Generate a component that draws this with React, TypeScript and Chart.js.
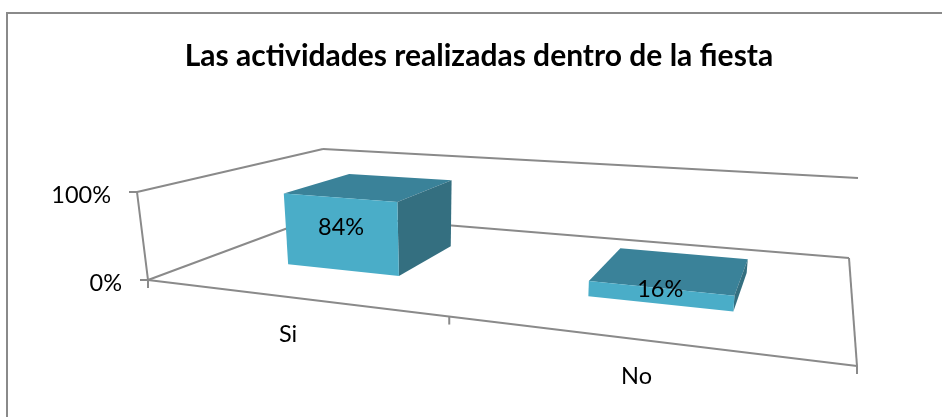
import React, { useEffect, useRef } from "react";
import { Chart, registerables } from "chart.js";

Chart.register(...registerables);

const title = "Las actividades realizadas dentro de la fiesta";
const categories = ["Si", "No"];
const shares = [0.84, 0.16];
const axisMax = 1;

type P = [number, number];
const FONT = "Lato, Carlito, sans-serif";
const LINE = "#8A8A8A";
const FRONT = "#4AADC8";
const TOP = "#3A8299";
const SIDE = "#346F80";
const DEPTH_NEAR = 0.3;
const DEPTH_FAR = 0.7;

function quadMap(p0: P, p1: P, p2: P, p3: P) {
  const dx1 = p1[0] - p2[0], dx2 = p3[0] - p2[0], sx = p0[0] - p1[0] + p2[0] - p3[0];
  const dy1 = p1[1] - p2[1], dy2 = p3[1] - p2[1], sy = p0[1] - p1[1] + p2[1] - p3[1];
  const det = dx1 * dy2 - dx2 * dy1;
  const g = (sx * dy2 - dx2 * sy) / det;
  const h = (dx1 * sy - sx * dy1) / det;
  const a = p1[0] - p0[0] + g * p1[0], b = p3[0] - p0[0] + h * p3[0];
  const d = p1[1] - p0[1] + g * p1[1], e = p3[1] - p0[1] + h * p3[1];
  return (u: number, w: number): P => {
    const q = g * u + h * w + 1;
    return [(a * u + b * w + p0[0]) / q, (d * u + e * w + p0[1]) / q];
  };
}

// Perspective frame of the plot: the floor plane, and how a full-height column
// leans and rises at each floor corner (front-left, front-right, back-right, back-left).
const floor = quadMap([148, 280], [857, 366], [849, 258], [323, 215]);
const bilinear = (c: number[], u: number, w: number) =>
  c[0] * (1 - u) * (1 - w) + c[1] * u * (1 - w) + c[2] * u * w + c[3] * (1 - u) * w;
const LEAN = [-11, 9, 9, 0];
const RISE = [88, 110, 80, 66];
const project = (u: number, w: number, v: number): P => {
  const f = floor(u, w);
  return [f[0] + bilinear(LEAN, u, w) * v, f[1] - bilinear(RISE, u, w) * v];
};

const poly = (ctx: CanvasRenderingContext2D, pts: P[], fill: string) => {
  ctx.beginPath();
  pts.forEach((p, i) => (i ? ctx.lineTo(p[0], p[1]) : ctx.moveTo(p[0], p[1])));
  ctx.closePath();
  ctx.fillStyle = fill;
  ctx.fill();
};
const seg = (ctx: CanvasRenderingContext2D, a: P, b: P) => {
  ctx.beginPath();
  ctx.moveTo(a[0], a[1]);
  ctx.lineTo(b[0], b[1]);
  ctx.stroke();
};

const perspective = {
  id: "perspective",
  afterDatasetsDraw(chart: any) {
    const ctx: CanvasRenderingContext2D = chart.ctx;
    const area = chart.chartArea;
    const xs = chart.scales.x, ys = chart.scales.y;
    const toV = (px: number) => ys.getValueForPixel(px) / axisMax;
    const toU = (px: number) => (px - area.left) / area.width;
    ctx.save();

    // outer chart border (top and left are inside the picture)
    ctx.strokeStyle = LINE;
    ctx.lineWidth = 2;
    ctx.beginPath();
    ctx.moveTo(7, 417);
    ctx.lineTo(7, 13);
    ctx.lineTo(942, 13);
    ctx.stroke();

    // walls and floor outline
    ctx.lineWidth = 2;
    seg(ctx, project(0, 0, 1), project(0, 1, 1));
    seg(ctx, project(0, 1, 1), project(1, 1, 1));
    seg(ctx, project(0, 0, 0), project(0, 0, 1));
    seg(ctx, project(0, 0, 0), project(1, 0, 0));
    seg(ctx, project(0, 0, 0), project(0, 1, 0));
    seg(ctx, project(0, 1, 0), project(1, 1, 0));
    seg(ctx, project(1, 1, 0), project(1, 0, 0));

    // value-axis ticks and labels
    ctx.font = `23.5px ${FONT}`;
    ctx.textBaseline = "middle";
    ys.ticks.forEach((t: any) => {
      const p = project(0, 0, t.value / axisMax);
      seg(ctx, [p[0] - 8, p[1]], p);
      ctx.textAlign = "right";
      ctx.fillStyle = "#000";
      ctx.fillText(t.label, p[0] - 26, p[1] + 3);
    });

    // category ticks and labels
    [0, 0.5, 1].forEach((u) => {
      const p = project(u, 0, 0);
      seg(ctx, p, [p[0], p[1] + 8]);
    });
    xs.ticks.forEach((t: any, i: number) => {
      const p = project(toU(xs.getPixelForTick(i)), 0, 0);
      ctx.textAlign = "center";
      ctx.fillText(t.label, p[0], p[1] + 37);
    });

    // bars
    const meta = chart.getDatasetMeta(0);
    meta.data.forEach((el: any, i: number) => {
      const u0 = toU(el.x - el.width / 2), u1 = toU(el.x + el.width / 2);
      const v = toV(el.y);
      const flb = project(u0, DEPTH_NEAR, 0), frb = project(u1, DEPTH_NEAR, 0);
      const flt = project(u0, DEPTH_NEAR, v), frt = project(u1, DEPTH_NEAR, v);
      const brb = project(u1, DEPTH_FAR, 0), brt = project(u1, DEPTH_FAR, v);
      const blt = project(u0, DEPTH_FAR, v);
      poly(ctx, [flt, frt, brt, blt], TOP);
      poly(ctx, [frb, brb, brt, frt], SIDE);
      poly(ctx, [flb, frb, frt, flt], FRONT);
      const cx = (flb[0] + frb[0] + flt[0] + frt[0]) / 4;
      const cy = (flb[1] + frb[1] + flt[1] + frt[1]) / 4;
      ctx.fillStyle = "#000";
      ctx.textAlign = "center";
      ctx.fillText(`${Math.round(shares[i] * 100)}%`, cx - 1, cy - 7);
    });
    ctx.restore();
  },
};

export default function App() {
  const ref = useRef<HTMLCanvasElement>(null);
  useEffect(() => {
    document.body.style.margin = "0";
    const chart = new Chart(ref.current!, {
      type: "bar",
      data: {
        labels: categories,
        datasets: [
          {
            data: shares,
            backgroundColor: "transparent",
            barPercentage: 0.4,
            categoryPercentage: 1,
          },
        ],
      },
      options: {
        responsive: false,
        animation: false,
        layout: { padding: { left: 16 } },
        scales: {
          x: { display: false },
          y: {
            display: false,
            min: 0,
            max: axisMax,
            ticks: { stepSize: 1, callback: (v: any) => `${Math.round(Number(v) * 100)}%` },
          },
        },
        plugins: {
          legend: { display: false },
          tooltip: { enabled: false },
          title: {
            display: true,
            text: title,
            color: "#000",
            font: { family: FONT, size: 30, weight: "bold" },
            padding: { top: 38, bottom: 10 },
          },
        },
      },
      plugins: [perspective],
    } as any);
    return () => chart.destroy();
  }, []);
  return <canvas ref={ref} width={942} height={417} style={{ display: "block" }} />;
}
